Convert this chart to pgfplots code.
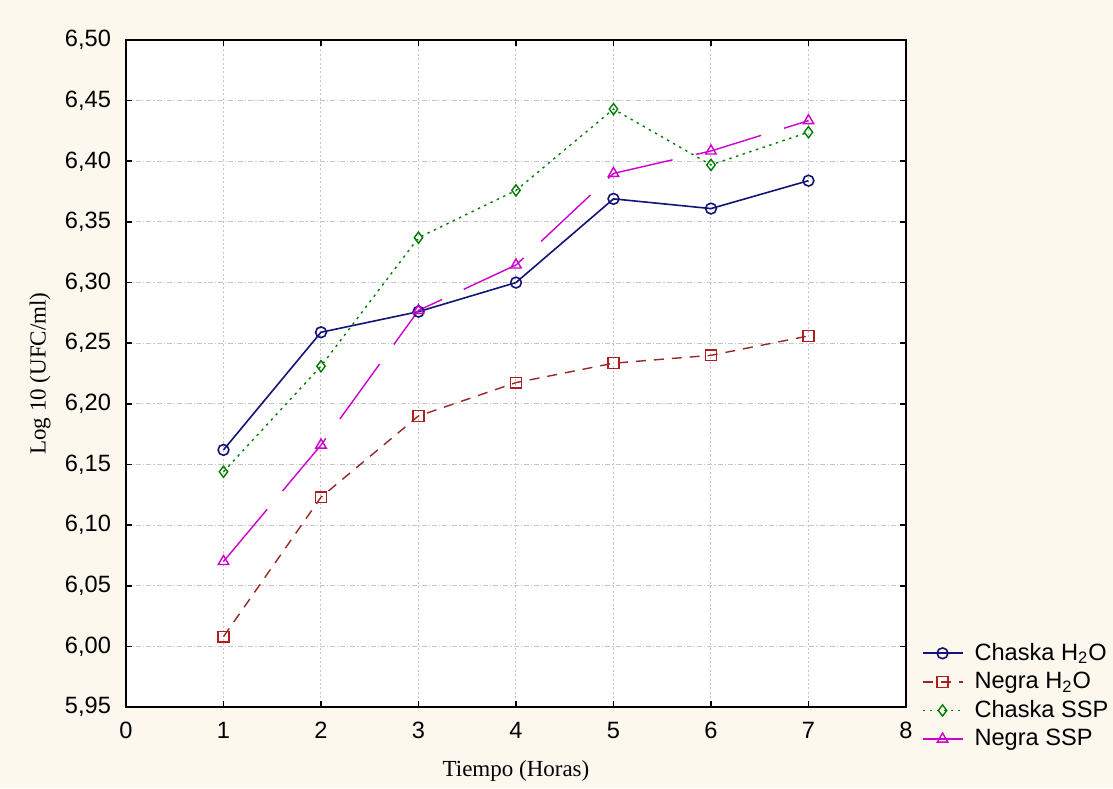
\documentclass[border=0pt]{standalone}
\usepackage{fontspec}
\setmainfont{Liberation Serif}
\newfontfamily\arial{Liberation Sans}
\usepackage{pgfplots}
\pgfplotsset{compat=1.18}
\definecolor{bgc}{RGB}{252,248,238}
\definecolor{cblue}{RGB}{20,20,120}
\definecolor{cred}{RGB}{150,40,40}
\definecolor{cgreen}{RGB}{0,125,0}
\definecolor{cmag}{RGB}{205,0,205}
\begin{document}
\begin{tikzpicture}[x=1pt,y=1pt]
\fill[bgc] (0,0) rectangle (556.5,394);
\path[use as bounding box] (0,0) rectangle (556.5,394);
\begin{axis}[
  at={(63pt,40.5pt)}, anchor=south west,
  scale only axis, width=390pt, height=333.5pt,
  xmin=0, xmax=8, ymin=5.95, ymax=6.50,
  xtick={0,1,2,3,4,5,6,7,8},
  ytick={5.95,6.00,6.05,6.10,6.15,6.20,6.25,6.30,6.35,6.40,6.45,6.50},
  scaled y ticks=false,
  axis background/.style={fill=white},
  axis line style={line width=0.9pt},
  tick align=inside, major tick length=3pt,
  tick style={black, line width=0.8pt},
  xmajorgrids, ymajorgrids,
  x grid style={gray!45, line width=0.5pt, dash pattern=on 1pt off 1.2pt},
  y grid style={gray!45, line width=0.5pt, dash pattern=on 2.5pt off 1pt on 0.6pt off 1pt},
  /pgf/number format/assume math mode=true,
  ticklabel style={font=\arial\fontsize{11.8}{13}\selectfont},
  yticklabel style={/pgf/number format/.cd, fixed, fixed zerofill, precision=2, use comma, /tikz/.cd, xshift=-4pt},
  xticklabel style={/pgf/number format/.cd, fixed, precision=0, /tikz/.cd, yshift=-4pt},
  xlabel={Tiempo (Horas)},
  ylabel={Log 10 (UFC/ml)},
  label style={font=\fontsize{11.5}{13}\selectfont},
  xlabel style={at={(axis description cs:0.5,-0.096)}, anchor=center},
  ylabel style={at={(axis description cs:-0.110,0.5)}, anchor=center},
  legend cell align=left,
  legend style={draw=none, fill=none, at={(axis description cs:1.012,0.107)}, anchor=north west,
    font=\arial\fontsize{11.8}{13}\selectfont, row sep=1.2pt, column sep=4pt,
    nodes={inner sep=1.6pt}},
  legend image code/.code={
    \draw[#1] (0pt,0pt) -- (20pt,0pt);
    \draw[#1, solid] plot[only marks] coordinates {(10pt,0pt)};
  },
]
\addplot[cblue, line width=0.8pt, mark=o, mark size=2.7pt, mark options={solid, fill=white}]
  coordinates {(1,6.162) (2,6.259) (3,6.276) (4,6.300) (5,6.369) (6,6.361) (7,6.384)};
\addlegendentry{Chaska H\textsubscript{2}O}
\addplot[cred, line width=0.7pt, dash pattern=on 5pt off 4pt, mark=square, mark size=2.7pt, mark options={solid, draw={rgb,255:red,175;green,30;blue,30}, fill=white}]
  coordinates {(1,6.008) (2,6.123) (3,6.190) (4,6.2175) (5,6.2335) (6,6.240) (7,6.256)};
\addlegendentry{Negra H\textsubscript{2}O}
\addplot[cgreen, line width=0.7pt, dash pattern=on 1.2pt off 2.3pt, mark=diamond, mark size=2.8pt, mark options={solid, fill=white}]
  coordinates {(1,6.144) (2,6.231) (3,6.337) (4,6.376) (5,6.443) (6,6.397) (7,6.424)};
\addlegendentry{Chaska SSP}
\addplot[cmag, line width=0.7pt, dash pattern=on 34pt off 12pt, mark=triangle, mark size=3pt, mark options={solid, fill=white}]
  coordinates {(1,6.070) (2,6.166) (3,6.277) (4,6.3145) (5,6.390) (6,6.4085) (7,6.4335)};
\addlegendentry{Negra SSP}
\end{axis}
\end{tikzpicture}
\end{document}
